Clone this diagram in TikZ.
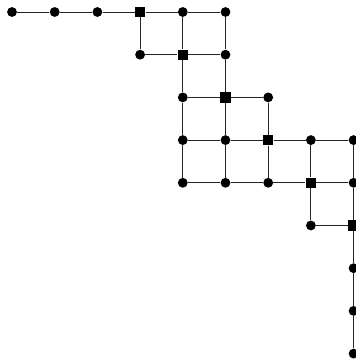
\documentclass[tikz,border=0pt]{standalone}
\usepackage{tikz}
\usetikzlibrary{positioning}

\begin{document}
\begin{tikzpicture}[
  x=1cm, y=-1cm,
  dot/.style={circle, fill=black, inner sep=0pt, minimum size=2.3mm},
  sq/.style={rectangle, fill=black, inner sep=0pt, minimum size=2.4mm},
  edge/.style={line width=0.6pt, black!85}
]
\useasboundingbox (-0.281,-0.281) rectangle (8.056,8.197);

% top row
\node[dot] (v00) at (0,0) {};
\node[dot] (v10) at (1,0) {};
\node[dot] (v20) at (2,0) {};
\node[sq]  (v30) at (3,0) {};
\node[dot] (v40) at (4,0) {};
\node[dot] (v50) at (5,0) {};
% row 1
\node[dot] (v31) at (3,1) {};
\node[sq]  (v41) at (4,1) {};
\node[dot] (v51) at (5,1) {};
% row 2
\node[dot] (v42) at (4,2) {};
\node[sq]  (v52) at (5,2) {};
\node[dot] (v62) at (6,2) {};
% row 3
\node[dot] (v43) at (4,3) {};
\node[dot] (v53) at (5,3) {};
\node[sq]  (v63) at (6,3) {};
\node[dot] (v73) at (7,3) {};
\node[dot] (v83) at (8,3) {};
% row 4
\node[dot] (v44) at (4,4) {};
\node[dot] (v54) at (5,4) {};
\node[dot] (v64) at (6,4) {};
\node[sq]  (v74) at (7,4) {};
\node[dot] (v84) at (8,4) {};
% row 5 and the tail
\node[dot] (v75) at (7,5) {};
\node[sq]  (v85) at (8,5) {};
\node[dot] (v86) at (8,6) {};
\node[dot] (v87) at (8,7) {};
\node[dot] (v88) at (8,8) {};

% horizontal edges
\draw[edge] (v00) -- (v10) -- (v20) -- (v30) -- (v40) -- (v50);
\draw[edge] (v31) -- (v41) -- (v51);
\draw[edge] (v42) -- (v52) -- (v62);
\draw[edge] (v43) -- (v53) -- (v63) -- (v73) -- (v83);
\draw[edge] (v44) -- (v54) -- (v64) -- (v74) -- (v84);
\draw[edge] (v75) -- (v85);
% vertical edges
\draw[edge] (v30) -- (v31);
\draw[edge] (v40) -- (v41) -- (v42) -- (v43) -- (v44);
\draw[edge] (v50) -- (v51) -- (v52) -- (v53) -- (v54);
\draw[edge] (v62) -- (v63) -- (v64);
\draw[edge] (v73) -- (v74) -- (v75);
\draw[edge] (v83) -- (v84) -- (v85) -- (v86) -- (v87) -- (v88);
\end{tikzpicture}
\end{document}
